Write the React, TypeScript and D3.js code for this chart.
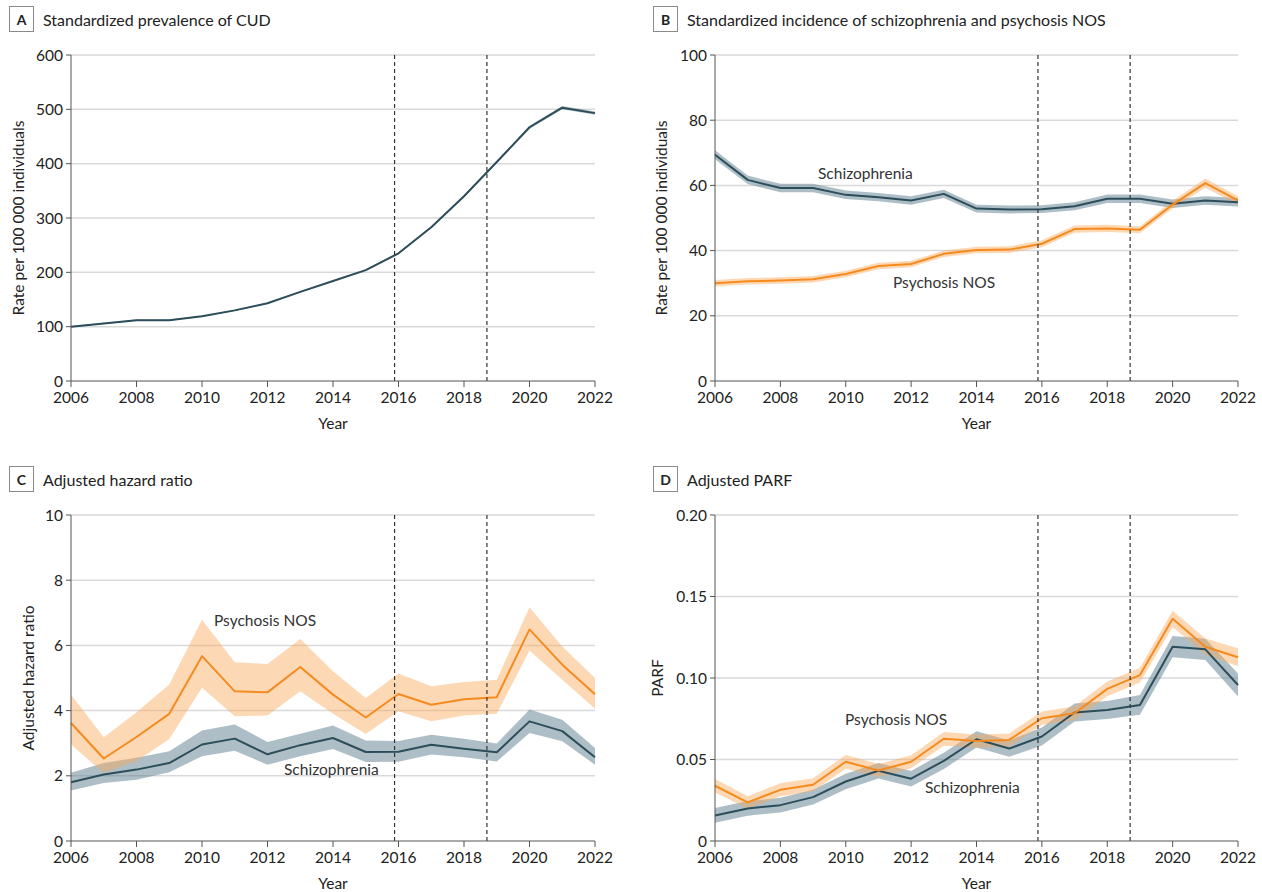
import React from "react";
import * as d3 from "d3";

const years = d3.range(2006, 2023);
const xTicks = [2006, 2008, 2010, 2012, 2014, 2016, 2018, 2020, 2022];
const policyLines = [2015.88, 2018.7];

// Panel A: standardized prevalence of CUD
const cudPrev = [100, 106, 112, 112, 119, 130, 143, 164, 184, 204, 235, 283, 340, 403, 467, 503, 493];
const cudHalf = [1, 1, 1, 1, 1, 1, 1, 1, 1, 1, 1.5, 1.5, 2, 2, 3, 3, 3];

// Panel B: standardized incidence
const incSchiz = [69.4, 61.7, 59.2, 59.2, 57.1, 56.4, 55.4, 57.4, 52.9, 52.6, 52.7, 53.6, 55.9, 55.9, 54.4, 55.4, 54.8];
const incSchizHalf = [1.4, 1.3, 1.3, 1.3, 1.3, 1.3, 1.3, 1.3, 1.2, 1.2, 1.2, 1.2, 1.3, 1.3, 1.3, 1.3, 1.3];
const incPsy = [30.0, 30.6, 30.8, 31.2, 32.8, 35.3, 35.9, 39.0, 40.2, 40.3, 42.1, 46.6, 46.8, 46.4, 54.1, 60.7, 55.4];
const incPsyHalf = [1.0, 1.0, 1.0, 1.0, 1.0, 1.0, 1.0, 1.0, 1.0, 1.0, 1.1, 1.1, 1.1, 1.1, 1.2, 1.4, 1.3];

// Panel C: adjusted hazard ratio
const hrPsy = [3.62, 2.53, 3.19, 3.9, 5.67, 4.59, 4.56, 5.34, 4.49, 3.79, 4.51, 4.18, 4.35, 4.41, 6.49, 5.41, 4.5];
const hrPsyLo = [2.96, 2.09, 2.45, 3.13, 4.7, 3.83, 3.85, 4.59, 3.9, 3.28, 3.98, 3.67, 3.85, 3.9, 5.84, 4.95, 4.06];
const hrPsyHi = [4.49, 3.18, 3.95, 4.8, 6.79, 5.48, 5.43, 6.2, 5.21, 4.39, 5.14, 4.75, 4.88, 4.95, 7.17, 5.97, 5.0];
const hrSchiz = [1.8, 2.04, 2.19, 2.39, 2.96, 3.14, 2.66, 2.94, 3.16, 2.73, 2.74, 2.95, 2.83, 2.72, 3.67, 3.37, 2.57];
const hrSchizLo = [1.55, 1.78, 1.88, 2.11, 2.6, 2.77, 2.34, 2.6, 2.82, 2.42, 2.43, 2.65, 2.57, 2.44, 3.31, 3.06, 2.34];
const hrSchizHi = [2.09, 2.39, 2.55, 2.75, 3.39, 3.57, 3.04, 3.29, 3.54, 3.08, 3.07, 3.26, 3.14, 2.99, 4.03, 3.72, 2.85];

// Panel D: adjusted PARF
const parfPsy = [0.0339, 0.0237, 0.0314, 0.0345, 0.0486, 0.0433, 0.0486, 0.0627, 0.0614, 0.062, 0.0753, 0.0784, 0.0933, 0.1018, 0.1363, 0.1192, 0.1127];
const parfPsyHalf = [0.0042, 0.0038, 0.004, 0.004, 0.0042, 0.004, 0.004, 0.0042, 0.004, 0.004, 0.0042, 0.0042, 0.0045, 0.0045, 0.005, 0.005, 0.0055];
const parfSchiz = [0.0157, 0.02, 0.022, 0.0269, 0.0365, 0.0431, 0.0382, 0.0492, 0.0624, 0.0567, 0.0641, 0.0788, 0.0804, 0.0835, 0.1192, 0.1176, 0.0957];
const parfSchizHalf = [0.0045, 0.0045, 0.0045, 0.0045, 0.0048, 0.0048, 0.0048, 0.005, 0.005, 0.005, 0.0055, 0.0055, 0.0055, 0.006, 0.0065, 0.0065, 0.007];

const SCHIZ_LINE = "#2c4d5a";
const SCHIZ_BAND = "#5d7d8d";
const PSY_LINE = "#f58b1f";
const PSY_BAND = "#fba85a";
const FONT = "Lato, 'Open Sans', sans-serif";

type Series = {
  values: number[];
  lo: number[];
  hi: number[];
  line: string;
  band: string;
  bandOpacity: number;
};

type Label = { text: string; x: number; y: number };

type PanelProps = {
  letter: string;
  title: string;
  left: number;
  right: number;
  top: number;
  bottom: number;
  yMax: number;
  yTicks: number[];
  yFormat: (v: number) => string;
  yLabel: string;
  yLabelX: number;
  series: Series[];
  labels: Label[];
};

function Panel(p: PanelProps) {
  const x = d3.scaleLinear().domain([2006, 2022]).range([p.left, p.right]);
  const y = d3.scaleLinear().domain([0, p.yMax]).range([p.bottom, p.top]);
  const line = d3
    .line<number>()
    .x((_, i) => x(years[i]))
    .y((d) => y(d));
  const area = (lo: number[], hi: number[]) =>
    d3
      .area<number>()
      .x((_, i) => x(years[i]))
      .y0((_, i) => y(lo[i]))
      .y1((_, i) => y(hi[i]))(years.map((v) => v)) || "";
  const titleY = p.top - 35;
  return (
    <g fontFamily={FONT}>
      <rect x={p.left - 61.5} y={titleY - 13.5} width={24} height={25} fill="#fff" stroke="#8a8a8a" strokeWidth={1} />
      <text x={p.left - 49.5} y={titleY + 5} textAnchor="middle" fontSize={14} fontWeight={700} fill="#222">
        {p.letter}
      </text>
      <text x={p.left - 28} y={titleY + 5.5} fontSize={16} fill="#222">
        {p.title}
      </text>
      {p.yTicks
        .filter((t) => t > 0)
        .map((t) => (
          <line key={"g" + t} x1={p.left} x2={p.right} y1={y(t)} y2={y(t)} stroke="#d9d9d9" strokeWidth={1.5} />
        ))}
      {p.series.map((s, i) => (
        <path key={"b" + i} d={area(s.lo, s.hi)} fill={s.band} fillOpacity={s.bandOpacity} stroke="none" />
      ))}
      {p.series.map((s, i) => (
        <path key={"l" + i} d={line(s.values) || ""} fill="none" stroke={s.line} strokeWidth={2} strokeLinejoin="round" />
      ))}
      {policyLines.map((v) => (
        <line key={"p" + v} x1={x(v)} x2={x(v)} y1={p.top} y2={p.bottom} stroke="#333" strokeWidth={1.2} strokeDasharray="4,3" />
      ))}
      <line x1={p.left} x2={p.left} y1={p.top} y2={p.bottom} stroke="#555" strokeWidth={1} />
      <line x1={p.left} x2={p.right} y1={p.bottom} y2={p.bottom} stroke="#555" strokeWidth={1} />
      {p.yTicks.map((t) => (
        <g key={"yt" + t}>
          <line x1={p.left - 5} x2={p.left} y1={y(t)} y2={y(t)} stroke="#555" strokeWidth={1} />
          <text x={p.left - 8} y={y(t) + 5.5} textAnchor="end" fontSize={15.5} fill="#222">
            {p.yFormat(t)}
          </text>
        </g>
      ))}
      {xTicks.map((t) => (
        <g key={"xt" + t}>
          <line x1={x(t)} x2={x(t)} y1={p.bottom} y2={p.bottom + 6} stroke="#555" strokeWidth={1} />
          <text x={x(t)} y={p.bottom + 22} textAnchor="middle" fontSize={15.5} fill="#222">
            {t}
          </text>
        </g>
      ))}
      <text x={(p.left + p.right) / 2} y={p.bottom + 48} textAnchor="middle" fontSize={15.5} fill="#222">
        Year
      </text>
      <text
        transform={`translate(${p.yLabelX},${(p.top + p.bottom) / 2}) rotate(-90)`}
        textAnchor="middle"
        fontSize={15.5}
        fill="#222"
      >
        {p.yLabel}
      </text>
      {p.labels.map((l) => (
        <text key={l.text} x={l.x} y={l.y} fontSize={15.5} fill="#333">
          {l.text}
        </text>
      ))}
    </g>
  );
}

const add = (a: number[], b: number[], sign: number) => a.map((v, i) => v + sign * b[i]);

export default function App() {
  const fmt0 = (v: number) => String(v);
  const fmt2 = (v: number) => v.toFixed(2);
  return (
    <svg
      width={1262}
      height={892}
      style={{ position: "absolute", left: 0, top: 0, background: "#fff" }}
    >
      <Panel
        letter="A"
        title="Standardized prevalence of CUD"
        left={71}
        right={595}
        top={55}
        bottom={381}
        yMax={600}
        yTicks={[0, 100, 200, 300, 400, 500, 600]}
        yFormat={fmt0}
        yLabel="Rate per 100 000 individuals"
        yLabelX={24}
        series={[
          { values: cudPrev, lo: add(cudPrev, cudHalf, -1), hi: add(cudPrev, cudHalf, 1), line: SCHIZ_LINE, band: SCHIZ_BAND, bandOpacity: 0.5 },
        ]}
        labels={[]}
      />
      <Panel
        letter="B"
        title="Standardized incidence of schizophrenia and psychosis NOS"
        left={715}
        right={1238}
        top={55}
        bottom={381}
        yMax={100}
        yTicks={[0, 20, 40, 60, 80, 100]}
        yFormat={fmt0}
        yLabel="Rate per 100 000 individuals"
        yLabelX={667}
        series={[
          { values: incSchiz, lo: add(incSchiz, incSchizHalf, -1), hi: add(incSchiz, incSchizHalf, 1), line: SCHIZ_LINE, band: SCHIZ_BAND, bandOpacity: 0.5 },
          { values: incPsy, lo: add(incPsy, incPsyHalf, -1), hi: add(incPsy, incPsyHalf, 1), line: PSY_LINE, band: PSY_BAND, bandOpacity: 0.45 },
        ]}
        labels={[
          { text: "Schizophrenia", x: 818, y: 179 },
          { text: "Psychosis NOS", x: 893, y: 288 },
        ]}
      />
      <Panel
        letter="C"
        title="Adjusted hazard ratio"
        left={71}
        right={595}
        top={515}
        bottom={841}
        yMax={10}
        yTicks={[0, 2, 4, 6, 8, 10]}
        yFormat={fmt0}
        yLabel="Adjusted hazard ratio"
        yLabelX={34}
        series={[
          { values: hrSchiz, lo: hrSchizLo, hi: hrSchizHi, line: SCHIZ_LINE, band: SCHIZ_BAND, bandOpacity: 0.5 },
          { values: hrPsy, lo: hrPsyLo, hi: hrPsyHi, line: PSY_LINE, band: PSY_BAND, bandOpacity: 0.45 },
        ]}
        labels={[
          { text: "Psychosis NOS", x: 214, y: 626 },
          { text: "Schizophrenia", x: 284, y: 775 },
        ]}
      />
      <Panel
        letter="D"
        title="Adjusted PARF"
        left={715}
        right={1238}
        top={515}
        bottom={841}
        yMax={0.2}
        yTicks={[0, 0.05, 0.1, 0.15, 0.2]}
        yFormat={(v) => (v === 0 ? "0" : fmt2(v))}
        yLabel="PARF"
        yLabelX={663}
        series={[
          { values: parfSchiz, lo: add(parfSchiz, parfSchizHalf, -1), hi: add(parfSchiz, parfSchizHalf, 1), line: SCHIZ_LINE, band: SCHIZ_BAND, bandOpacity: 0.5 },
          { values: parfPsy, lo: add(parfPsy, parfPsyHalf, -1), hi: add(parfPsy, parfPsyHalf, 1), line: PSY_LINE, band: PSY_BAND, bandOpacity: 0.45 },
        ]}
        labels={[
          { text: "Psychosis NOS", x: 845, y: 725 },
          { text: "Schizophrenia", x: 925, y: 793 },
        ]}
      />
    </svg>
  );
}
